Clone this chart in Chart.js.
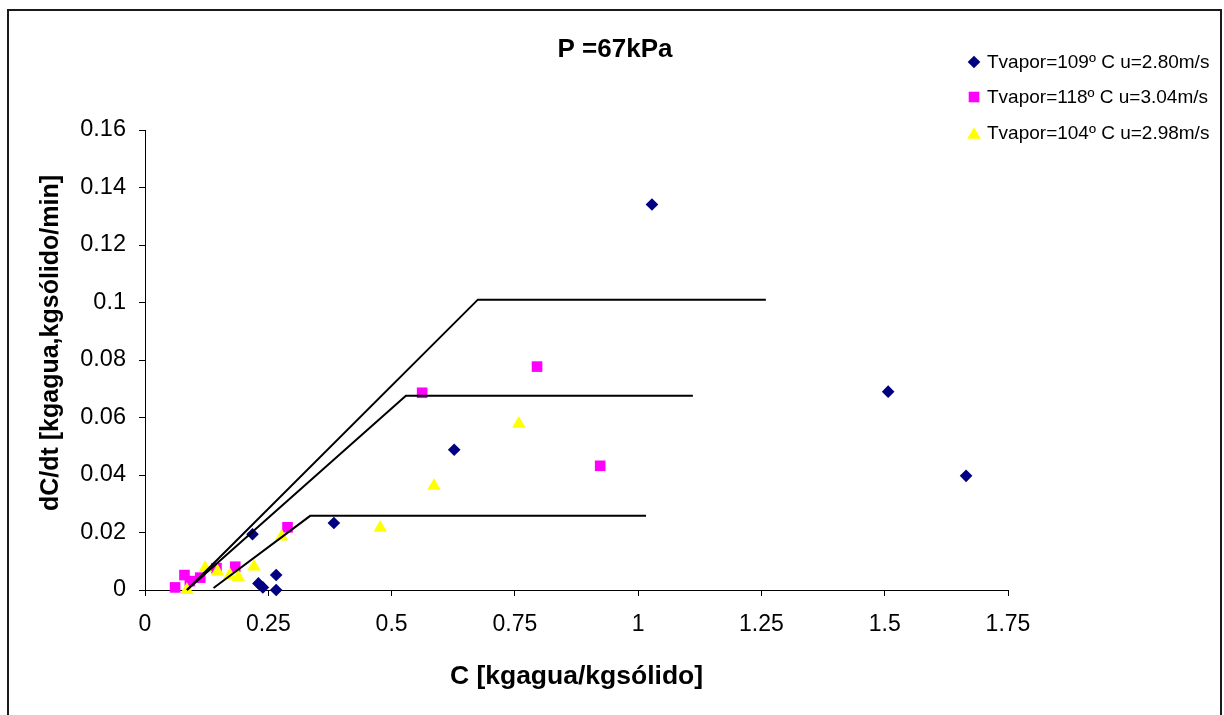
<!DOCTYPE html>
<html>
<head>
<meta charset="utf-8">
<script src="https://cdn.jsdelivr.net/npm/chart.js@4.4.1/dist/chart.umd.min.js"></script>
<style>
  html, body { margin: 0; padding: 0; background: #fff; overflow: hidden; }
  canvas { display: block; }
</style>
</head>
<body>
<canvas id="chart" width="1224" height="715"></canvas>
<script>
// Drying-rate curves at P = 67 kPa
const chartTitle = 'P =67kPa';
const xAxisTitle = 'C [kgagua/kgsólido]';
const yAxisTitle = 'dC/dt [kgagua,kgsólido/min]';

const xTickValues = [0, 0.25, 0.5, 0.75, 1, 1.25, 1.5, 1.75];
const xTickLabels = ['0', '0.25', '0.5', '0.75', '1', '1.25', '1.5', '1.75'];
const yTickValues = [0, 0.02, 0.04, 0.06, 0.08, 0.1, 0.12, 0.14, 0.16];
const yTickLabels = ['0', '0.02', '0.04', '0.06', '0.08', '0.1', '0.12', '0.14', '0.16'];

const seriesLabels = [
  'Tvapor=109º C u=2.80m/s',
  'Tvapor=118º C u=3.04m/s',
  'Tvapor=104º C u=2.98m/s'
];

// Tvapor = 109 ºC
const c109 = [0.218, 0.230, 0.239, 0.266, 0.266, 0.383, 0.627, 1.028, 1.507, 1.665];
const r109 = [0.0194, 0.0023, 0.0009, 0.0052, 0.0000, 0.0233, 0.0488, 0.1341, 0.0690, 0.0397];

// Tvapor = 118 ºC
const c118 = [0.061, 0.080, 0.091, 0.112, 0.145, 0.183, 0.289, 0.562, 0.795, 0.923];
const r118 = [0.0009, 0.0052, 0.0031, 0.0043, 0.0076, 0.0081, 0.0218, 0.0686, 0.0777, 0.0432];

// Tvapor = 104 ºC
const c104 = [0.085, 0.122, 0.147, 0.172, 0.189, 0.221, 0.277, 0.477, 0.586, 0.758];
const r104 = [0.0000, 0.0076, 0.0064, 0.0052, 0.0045, 0.0081, 0.0186, 0.0216, 0.0362, 0.0578];

// Idealised constant-rate / falling-rate outlines
const lineAC = [0.085, 0.675, 1.259];
const lineAR = [0.0000, 0.1010, 0.1010];
const lineBC = [0.085, 0.529, 1.111];
const lineBR = [0.0000, 0.0676, 0.0676];
const lineCC = [0.139, 0.335, 1.016];
const lineCR = [0.0007, 0.0258, 0.0258];

const colors = ['#000080', '#FF00FF', '#FFFF00'];
const shapes = ['rectRot', 'rect', 'triangle'];
const radii = [6.3, 7.5, 7.8];
const FONT = '"Liberation Sans", Arial, Helvetica, sans-serif';

const pts = (xs, ys) => xs.map((x, i) => ({ x: x, y: ys[i] }));

function markerSet(idx, xs, ys, order) {
  return {
    label: seriesLabels[idx],
    data: pts(xs, ys),
    pointStyle: shapes[idx],
    pointRadius: radii[idx],
    pointHoverRadius: radii[idx],
    backgroundColor: colors[idx],
    borderColor: colors[idx],
    pointBorderWidth: 0,
    showLine: false,
    clip: false,
    order: order
  };
}

function outline(xs, ys) {
  return {
    label: '',
    data: pts(xs, ys),
    showLine: true,
    borderColor: '#000',
    borderWidth: 2,
    pointRadius: 0,
    pointHoverRadius: 0,
    fill: false,
    tension: 0,
    clip: false,
    order: 0
  };
}

// Frame, titles and legend drawn around the plot
const decor = {
  id: 'decor',
  beforeDraw(chart) {
    const ctx = chart.ctx;
    ctx.save();
    ctx.fillStyle = '#fff';
    ctx.fillRect(0, 0, chart.width, chart.height);
    ctx.restore();
  },
  afterDraw(chart) {
    const ctx = chart.ctx;
    ctx.save();
    ctx.strokeStyle = '#1a1a1a';
    ctx.lineWidth = 2;
    ctx.strokeRect(8, 10, 1213, 730);

    ctx.fillStyle = '#000';
    ctx.textAlign = 'center';
    ctx.textBaseline = 'middle';
    ctx.font = 'bold 26px ' + FONT;
    ctx.fillText(chartTitle, 615, 50);

    ctx.font = 'bold 26.5px ' + FONT;
    ctx.fillText(xAxisTitle, (chart.chartArea.left + chart.chartArea.right) / 2, 677);

    ctx.font = 'bold 25px ' + FONT;
    ctx.save();
    ctx.translate(51, 343);
    ctx.rotate(-Math.PI / 2);
    ctx.fillText(yAxisTitle, 0, 0);
    ctx.restore();

    // legend
    const rowsY = [62, 97, 133];
    const mx = 974;
    ctx.textAlign = 'left';
    ctx.font = '19px ' + FONT;
    for (let i = 0; i < 3; i++) {
      const y = rowsY[i];
      ctx.fillStyle = colors[i];
      ctx.beginPath();
      if (i === 0) {
        const r = radii[0];
        ctx.moveTo(mx - r, y); ctx.lineTo(mx, y - r); ctx.lineTo(mx + r, y); ctx.lineTo(mx, y + r);
      } else if (i === 1) {
        const s = radii[1] * Math.SQRT1_2;
        ctx.rect(mx - s, y - s, 2 * s, 2 * s);
      } else {
        const r = radii[2];
        const h = 1.5 * r, w = Math.sqrt(3) * r;
        ctx.moveTo(mx, y - h / 2); ctx.lineTo(mx + w / 2, y + h / 2); ctx.lineTo(mx - w / 2, y + h / 2);
      }
      ctx.closePath();
      ctx.fill();
      ctx.fillStyle = '#000';
      ctx.fillText(seriesLabels[i], 987, y + 1);
    }
    ctx.restore();
  }
};

new Chart(document.getElementById('chart'), {
  type: 'scatter',
  data: {
    datasets: [
      outline(lineAC, lineAR),
      outline(lineBC, lineBR),
      outline(lineCC, lineCR),
      markerSet(0, c109, r109, 3),
      markerSet(1, c118, r118, 2),
      markerSet(2, c104, r104, 1)
    ]
  },
  options: {
    responsive: false,
    animation: false,
    events: [],
    layout: { padding: { left: 0, top: 130, right: 216, bottom: 0 } },
    plugins: {
      legend: { display: false },
      title: { display: false },
      tooltip: { enabled: false }
    },
    scales: {
      x: {
        type: 'linear',
        min: 0,
        max: 1.75,
        afterBuildTicks: s => { s.ticks = xTickValues.map(v => ({ value: v })); },
        afterFit: s => { s.height = 125; },
        ticks: {
          callback: (v, i) => xTickLabels[i],
          font: { family: FONT, size: 23 },
          color: '#000',
          padding: 15,
          maxRotation: 0,
          autoSkip: false
        },
        grid: { drawOnChartArea: false, drawTicks: true, tickLength: 6, color: '#000', tickColor: '#000', tickWidth: 1 },
        border: { display: true, color: '#000', width: 1 }
      },
      y: {
        type: 'linear',
        min: 0,
        max: 0.16,
        afterBuildTicks: s => { s.ticks = yTickValues.map(v => ({ value: v })); },
        afterFit: s => { s.width = 145; },
        ticks: {
          callback: (v, i) => yTickLabels[i],
          font: { family: FONT, size: 23.5 },
          color: '#000',
          padding: 13,
          autoSkip: false
        },
        grid: { drawOnChartArea: false, drawTicks: true, tickLength: 6, color: '#000', tickColor: '#000', tickWidth: 1 },
        border: { display: true, color: '#000', width: 1 }
      }
    }
  },
  plugins: [decor]
});
</script>
</body>
</html>
